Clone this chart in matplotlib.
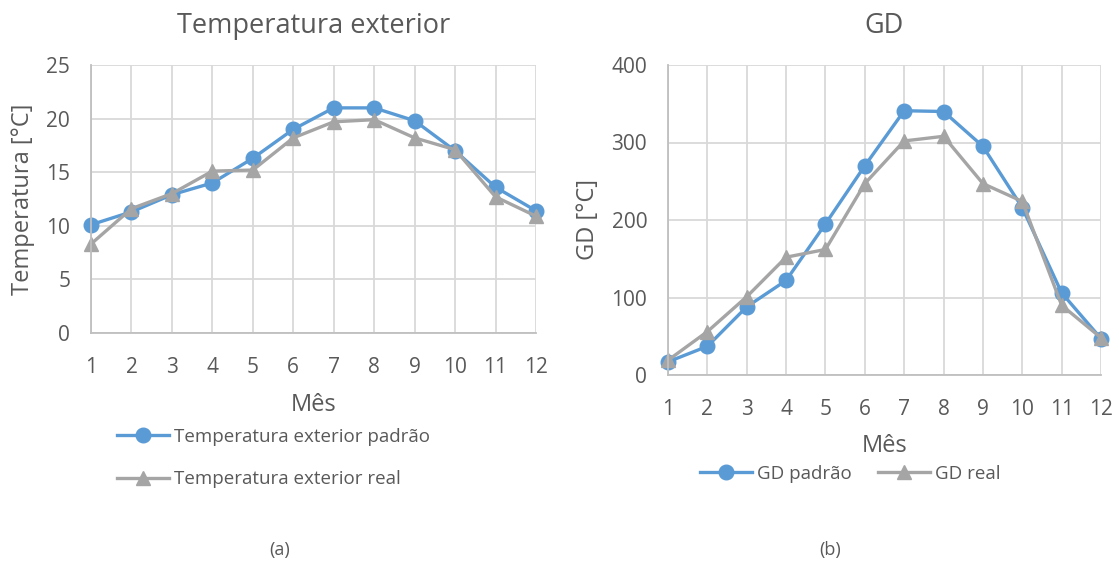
import matplotlib
matplotlib.use("Agg")
import matplotlib.pyplot as plt

plt.rcParams['font.family'] = ['Open Sans', 'DejaVu Sans']

meses = [1, 2, 3, 4, 5, 6, 7, 8, 9, 10, 11, 12]

# Temperatura exterior [°C]
temp_padrao = [10.1, 11.3, 12.9, 14.0, 16.3, 19.0, 21.0, 21.0, 19.8, 17.0, 13.6, 11.4]
temp_real = [8.3, 11.6, 13.0, 15.1, 15.2, 18.2, 19.7, 19.9, 18.2, 17.1, 12.7, 10.9]

# GD [°C]
gd_padrao = [17, 37, 88, 122, 195, 270, 341, 340, 295, 216, 106, 47]
gd_real = [19, 56, 101, 152, 162, 247, 302, 308, 247, 224, 90, 48]

AZUL = '#5B9BD5'
CINZA = '#A5A5A5'
TXT = '#595959'
GRID = '#D9D9D9'

W, H = 1119, 565
fig = plt.figure(figsize=(W / 100, H / 100), dpi=100)


def eixo(x0, x1, y0, y1):
    # coordenadas em pixels (y a partir do topo)
    return fig.add_axes([x0 / W, 1 - y1 / H, (x1 - x0) / W, (y1 - y0) / H])


def estilo(ax, ymax, ystep):
    ax.set_xlim(1, 12)
    ax.set_ylim(0, ymax)
    ax.set_xticks(meses)
    ax.set_yticks(range(0, ymax + 1, ystep))
    ax.grid(True, color=GRID, lw=1.3)
    ax.set_axisbelow(True)
    for s in ['top', 'right']:
        ax.spines[s].set_visible(False)
    for s in ['bottom', 'left']:
        ax.spines[s].set_color('#BFBFBF')
        ax.spines[s].set_linewidth(1.3)
    ax.tick_params(length=0, labelsize=15, colors=TXT)
    ax.tick_params(axis='x', pad=17)
    ax.tick_params(axis='y', pad=15)


# (a) Temperatura exterior
ax1 = eixo(91, 536, 65, 333)
ax1.plot(meses, temp_padrao, color=AZUL, lw=2.4, marker='o', ms=10.5,
         label='Temperatura exterior padrão', clip_on=False)
ax1.plot(meses, temp_real, color=CINZA, lw=2.4, marker='^', ms=10.5,
         label='Temperatura exterior real', clip_on=False)
estilo(ax1, 25, 5)
ax1.set_title('Temperatura exterior', fontsize=19.5, color=TXT, pad=23)
ax1.set_xlabel('Mês', fontsize=17, color=TXT, labelpad=11)
ax1.set_ylabel('Temperatura [°C]', fontsize=17, color=TXT, labelpad=8)
ax1.legend(loc='upper left', bbox_to_anchor=(100 / W, 1 - 411 / H),
           bbox_transform=fig.transFigure, frameon=False, fontsize=13.5,
           labelcolor=TXT, handlelength=2.8, handletextpad=0.25,
           labelspacing=1.3)

# (b) GD
ax2 = eixo(668, 1101, 65, 375)
ax2.plot(meses, gd_padrao, color=AZUL, lw=2.4, marker='o', ms=10.5,
         label='GD padrão', clip_on=False)
ax2.plot(meses, gd_real, color=CINZA, lw=2.4, marker='^', ms=10.5,
         label='GD real', clip_on=False)
estilo(ax2, 400, 100)
ax2.set_title('GD', fontsize=19.5, color=TXT, pad=23)
ax2.set_xlabel('Mês', fontsize=17, color=TXT, labelpad=10)
ax2.set_ylabel('GD [°C]', fontsize=17, color=TXT, labelpad=8)
ax2.legend(loc='center', bbox_to_anchor=(850 / W, 1 - 474 / H),
           bbox_transform=fig.transFigure, frameon=False, fontsize=13.5,
           labelcolor=TXT, ncol=2, handlelength=2.8, handletextpad=0.25,
           columnspacing=1.4)

fig.text(280 / W, 1 - 550 / H, '(a)', ha='center', va='center',
         fontsize=13, color=TXT)
fig.text(830 / W, 1 - 550 / H, '(b)', ha='center', va='center',
         fontsize=13, color=TXT)

fig.savefig('out.png', dpi=100, facecolor='white')
